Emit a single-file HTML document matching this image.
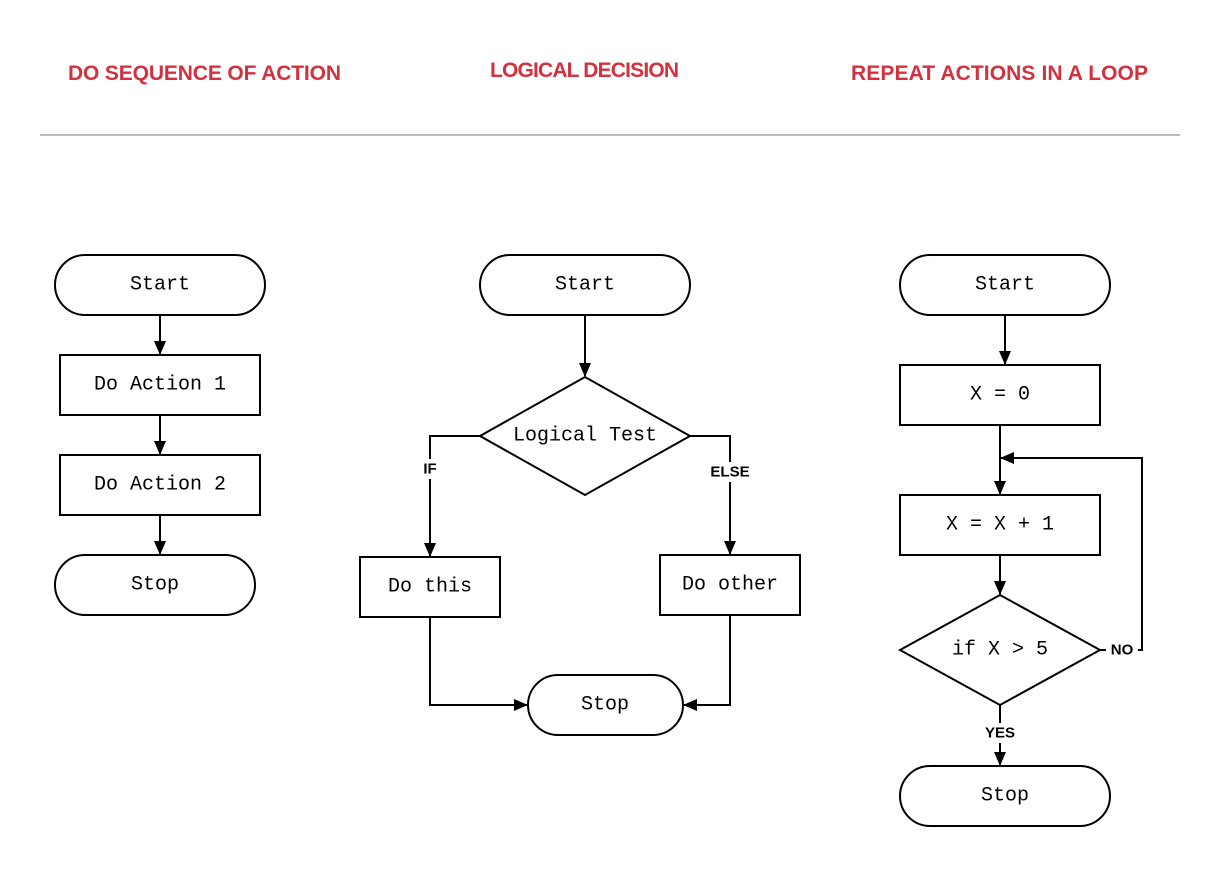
<!DOCTYPE html>
<html><head><meta charset="utf-8"><style>
body{margin:0;background:#fff;width:1220px;height:866px;overflow:hidden}
svg text.m{font-family:"Liberation Mono",monospace;font-size:20px;fill:#000;text-anchor:middle;dominant-baseline:central}
svg text.h{font-family:"Liberation Sans",sans-serif;font-weight:bold;font-size:21px;fill:#d2323f;letter-spacing:1px}
svg text.l{font-family:"Liberation Sans",sans-serif;font-weight:bold;font-size:15px;fill:#000;text-anchor:middle;dominant-baseline:central}
</style></head><body>
<svg width="1220" height="866" viewBox="0 0 1220 866">
<defs><marker id="a" markerWidth="14" markerHeight="12" refX="13" refY="6" orient="auto" markerUnits="userSpaceOnUse"><path d="M0,0 L14,6 L0,12 z" fill="#000"/></marker></defs>
<text class="h" x="68" y="80" textLength="274">DO SEQUENCE OF ACTION</text>
<text class="h" x="490" y="77" textLength="190">LOGICAL DECISION</text>
<text class="h" x="851" y="80" textLength="298">REPEAT ACTIONS IN A LOOP</text>
<line x1="40" y1="135" x2="1180" y2="135" stroke="#bbb" stroke-width="2"/>
<g fill="#fff" stroke="#000" stroke-width="2">
<rect x="55" y="255" width="210" height="60" rx="30"/>
<rect x="60" y="355" width="200" height="60"/>
<rect x="60" y="455" width="200" height="60"/>
<rect x="55" y="555" width="200" height="60" rx="30"/>
<rect x="480" y="255" width="210" height="60" rx="30"/>
<polygon points="585,377 690,436 585,495 480,436"/>
<rect x="360" y="557" width="140" height="60"/>
<rect x="660" y="555" width="140" height="60"/>
<rect x="528" y="675" width="155" height="60" rx="30"/>
<rect x="900" y="255" width="210" height="60" rx="30"/>
<rect x="900" y="365" width="200" height="60"/>
<rect x="900" y="495" width="200" height="60"/>
<polygon points="1000,595 1100,650 1000,705 900,650"/>
<rect x="900" y="766" width="210" height="60" rx="30"/>
</g>
<g fill="none" stroke="#000" stroke-width="2" marker-end="url(#a)">
<line x1="160" y1="315" x2="160" y2="354"/>
<line x1="160" y1="415" x2="160" y2="454"/>
<line x1="160" y1="515" x2="160" y2="554"/>
<line x1="585" y1="315" x2="585" y2="376"/>
<polyline points="480,436 430,436 430,556"/>
<polyline points="690,436 730,436 730,554"/>
<polyline points="430,617 430,705 527,705"/>
<polyline points="730,615 730,705 684,705"/>
<line x1="1005" y1="315" x2="1005" y2="364"/>
<line x1="1000" y1="425" x2="1000" y2="494"/>
<line x1="1000" y1="555" x2="1000" y2="594"/>
<polyline points="1100,650 1142,650 1142,458 1001,458"/>
<line x1="1000" y1="705" x2="1000" y2="765"/>
</g>
<rect x="417" y="459" width="26" height="20" fill="#fff"/>
<text class="l" x="430" y="469">IF</text>
<rect x="705" y="462" width="50" height="20" fill="#fff"/>
<text class="l" x="730" y="472">ELSE</text>
<rect x="1106" y="640" width="32" height="20" fill="#fff"/>
<text class="l" x="1122" y="650">NO</text>
<rect x="980" y="723" width="40" height="20" fill="#fff"/>
<text class="l" x="1000" y="733">YES</text>
<text class="m" x="160" y="285">Start</text>
<text class="m" x="160" y="385">Do Action 1</text>
<text class="m" x="160" y="485">Do Action 2</text>
<text class="m" x="155" y="585">Stop</text>
<text class="m" x="585" y="285">Start</text>
<text class="m" x="585" y="436">Logical Test</text>
<text class="m" x="430" y="587">Do this</text>
<text class="m" x="730" y="585">Do other</text>
<text class="m" x="605" y="705">Stop</text>
<text class="m" x="1005" y="285">Start</text>
<text class="m" x="1000" y="395">X = 0</text>
<text class="m" x="1000" y="525">X = X + 1</text>
<text class="m" x="1000" y="650">if X &gt; 5</text>
<text class="m" x="1005" y="796">Stop</text>
</svg>
</body></html>
